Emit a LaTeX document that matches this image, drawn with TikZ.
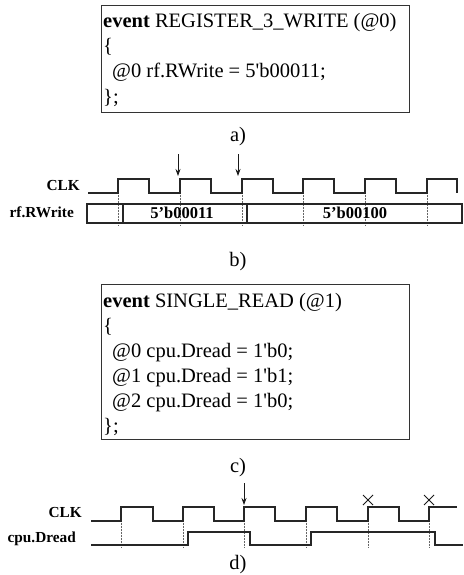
\documentclass[tikz,border=0pt]{standalone}
\usepackage{fontspec}
\setmainfont{Liberation Serif}
\usetikzlibrary{arrows.meta}
\begin{document}
\begin{tikzpicture}[x=1pt,y=-1pt,
  codebox/.style={draw=black!80, line width=1.4pt, anchor=north west, inner sep=0pt},
  codetext/.style={anchor=base west, inner sep=0pt, font=\fontsize{20.5}{25}\selectfont},
  caption/.style={inner sep=0pt, font=\fontsize{20.5}{25}\selectfont},
  siglabel/.style={anchor=east, inner sep=0pt, font=\fontsize{15.3}{18}\selectfont\bfseries},
  bustext/.style={inner sep=0pt, font=\fontsize{16.5}{18}\selectfont\bfseries},
  wave/.style={line width=1.2pt, draw=black!85},
  buswall/.style={line width=1.7pt, draw=black!85},
  guide/.style={densely dotted, line width=0.5pt, draw=black!60},
  markarrow/.style={-{Stealth[length=7pt,width=5pt]}, line width=0.8pt, draw=black!90},
  xmark/.style={line width=0.8pt, draw=black!90}
]
\useasboundingbox (0,0) rectangle (463,575);

% ---------- a) ----------
\node[codebox, minimum width=308pt, minimum height=107pt] (boxA) at (101,5) {};
\node[codetext] (a1) at (103,28) {\textbf{event} REGISTER\_3\_WRITE (@0)};
\node[codetext] (a2) at (103,53) {\{};
\node[codetext] (a3) at (112,78) {@0 rf.RWrite = 5\textquotesingle b00011;};
\node[codetext] (a4) at (103,103) {\};};
\node[caption] (capA) at (238,137) {a)};

% ---------- b) ----------
\node[siglabel] (clkB) at (80,186) {CLK};
\node[siglabel] (rwB) at (74,212) {rf.RWrite};
\foreach \x in {118,180,242,303,365,427} \draw[guide] (\x,193) -- (\x,226);
\draw[wave] (88,193) -| (118,179) -| (149,193) -| (180,179) -| (211,193) -| (242,179)
  -| (273,193) -| (303,179) -| (334,193) -| (365,179) -| (396,193) -| (427,179) -| (457,193);
\draw[wave] (87,204) rectangle (462,223);
\draw[buswall] (123,204) -- (123,223);
\draw[buswall] (247,204) -- (247,223);
\node[bustext] (v1) at (182,213) {5’b00011};
\node[bustext] (v2) at (355,213) {5’b00100};
\coordinate (arB1s) at (178,154); \coordinate (arB1e) at (178,176);
\coordinate (arB2s) at (238,154); \coordinate (arB2e) at (238,176);
\draw[markarrow] (arB1s) -- (arB1e);
\draw[markarrow] (arB2s) -- (arB2e);
\node[caption] (capB) at (238,262) {b)};

% ---------- c) ----------
\node[codebox, minimum width=308pt, minimum height=155pt] (boxC) at (101,284) {};
\node[codetext] (c1) at (103,307) {\textbf{event} SINGLE\_READ (@1)};
\node[codetext] (c2) at (103,332) {\{};
\node[codetext] (c3) at (112,357) {@0 cpu.Dread = 1\textquotesingle b0;};
\node[codetext] (c4) at (112,382) {@1 cpu.Dread = 1\textquotesingle b1;};
\node[codetext] (c5) at (112,407) {@2 cpu.Dread = 1\textquotesingle b0;};
\node[codetext] (c6) at (103,432) {\};};
\node[caption] (capC) at (238,468) {c)};

% ---------- d) ----------
\node[siglabel] (clkD) at (82,513) {CLK};
\node[siglabel] (drD) at (76,539) {cpu.Dread};
\foreach \x in {121,183,244,306,368,429} \draw[guide] (\x,521) -- (\x,547);
\draw[wave] (91,521) -| (121,507) -| (153,521) -| (183,507) -| (214,521) -| (244,507)
  -| (275,521) -| (306,507) -| (337,521) -| (368,507) -| (399,521) -| (429,507) -- (457,507);
\draw[wave] (91,545) -| (188,532) -| (250,545) -| (311,532) -| (435,545) -- (463,545);
\coordinate (arDs) at (244,483); \coordinate (arDe) at (244,505);
\draw[markarrow] (arDs) -- (arDe);
\draw[xmark] (363,495) -- (373,505) (363,505) -- (373,495);
\draw[xmark] (424,495) -- (434,505) (424,505) -- (434,495);
\node[caption] (capD) at (238,565) {d)};
\end{tikzpicture}
\end{document}
